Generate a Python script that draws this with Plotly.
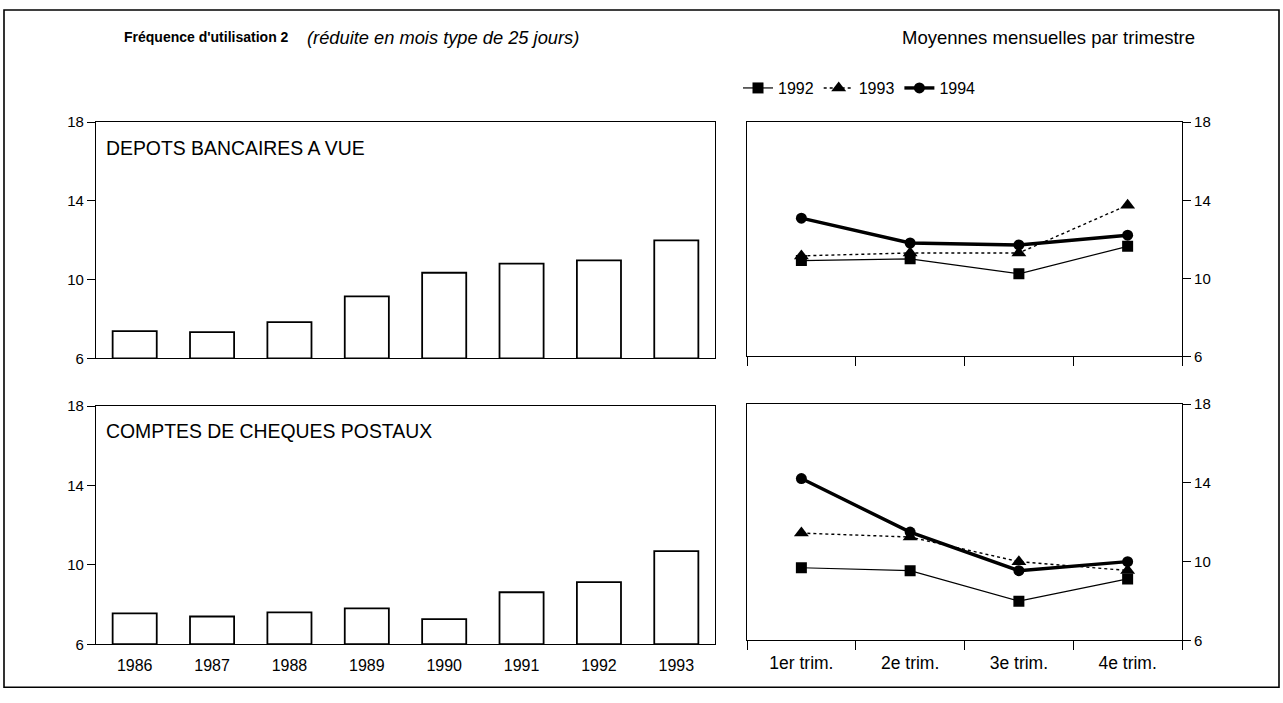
import plotly.graph_objects as go

# ---- data ----
years = ["1986", "1987", "1988", "1989", "1990", "1991", "1992", "1993"]
depots_annual = [7.38, 7.33, 7.84, 9.15, 10.35, 10.81, 10.98, 11.99]
ccp_annual = [7.56, 7.40, 7.61, 7.81, 7.27, 8.62, 9.13, 10.69]

quarters = ["1er trim.", "2e trim.", "3e trim.", "4e trim."]
depots_q = {
    "1992": [10.91, 11.00, 10.23, 11.64],
    "1993": [11.15, 11.30, 11.30, 13.75],
    "1994": [13.08, 11.81, 11.71, 12.21],
}
ccp_q = {
    "1992": [9.69, 9.54, 7.99, 9.12],
    "1993": [11.45, 11.25, 10.00, 9.55],
    "1994": [14.22, 11.50, 9.54, 10.00],
}
y_ticks = [6, 10, 14, 18]

W, H = 1283, 703
FONT = "Liberation Sans, Arial, Helvetica, sans-serif"

def px_x(p):
    return p / W

def px_y(p):
    return 1 - p / H

fig = go.Figure()

# bars
for data, xa, ya in [(depots_annual, "x", "y"), (ccp_annual, "x3", "y3")]:
    fig.add_trace(go.Bar(
        x=years, y=[v - 6 for v in data], base=6,
        marker=dict(color="white", line=dict(color="black", width=1.8)),
        width=0.57, xaxis=xa, yaxis=ya, showlegend=False, hoverinfo="skip",
    ))

styles = {
    "1992": dict(line=dict(color="black", width=1.2, dash="solid"),
                 marker=dict(symbol="square", size=11, color="black")),
    "1993": dict(line=dict(color="black", width=1.4, dash="dot"),
                 marker=dict(symbol="triangle-up", size=13, color="black")),
    "1994": dict(line=dict(color="black", width=3.4, dash="solid"),
                 marker=dict(symbol="circle", size=11, color="black")),
}

for data, xa, ya, show in [(depots_q, "x2", "y2", True), (ccp_q, "x4", "y4", False)]:
    for name, vals in data.items():
        fig.add_trace(go.Scatter(
            x=quarters, y=vals, mode="lines+markers", name=name,
            xaxis=xa, yaxis=ya, showlegend=show, **styles[name],
        ))

left_dom = [px_x(96), px_x(715)]
right_dom = [px_x(747), px_x(1182)]
top_left = [px_y(358), px_y(116)]
bot_left = [px_y(651), px_y(407)]
top_right = [px_y(356), px_y(116)]
bot_right = [px_y(647), px_y(405)]

TICKFONT = dict(size=15, color="black", family=FONT)
yax_common = dict(range=[6, 18], tickvals=y_ticks, ticks="outside", ticklen=8,
                  tickwidth=1, tickcolor="black", showline=True, linecolor="black",
                  linewidth=1.2, mirror=True, showgrid=False, zeroline=False,
                  tickfont=TICKFONT)

fig.update_layout(
    width=W, height=H,
    margin=dict(l=0, r=0, t=0, b=0),
    paper_bgcolor="white", plot_bgcolor="white",
    font=dict(family=FONT, color="black", size=15),
    xaxis=dict(domain=left_dom, anchor="y", showticklabels=False, ticks="",
               showline=True, linecolor="black", linewidth=1.2, mirror=True,
               showgrid=False),
    yaxis=dict(domain=top_left, anchor="x", **yax_common),
    xaxis3=dict(domain=left_dom, anchor="y3", ticks="", showline=True,
                linecolor="black", linewidth=1.2, mirror=True, showgrid=False,
                tickfont=dict(size=16, color="black", family=FONT),
                ticklabelstandoff=6),
    yaxis3=dict(domain=bot_left, anchor="x3", **yax_common),
    xaxis2=dict(domain=right_dom, anchor="y2", showticklabels=False,
                range=[-0.5, 3.5],
                ticks="outside", tickson="boundaries", ticklen=9, tickcolor="black",
                showline=True, linecolor="black", linewidth=1.2, mirror=True,
                showgrid=False),
    yaxis2=dict(domain=top_right, anchor="x2", side="right", **yax_common),
    xaxis4=dict(domain=right_dom, anchor="y4", ticks="outside",
                range=[-0.5, 3.5],
                tickson="boundaries", ticklen=9, tickcolor="black",
                showline=True, linecolor="black", linewidth=1.2, mirror=True,
                showgrid=False, tickfont=dict(size=17.5, color="black", family=FONT),
                ticklabelstandoff=7),
    yaxis4=dict(domain=bot_right, anchor="x4", side="right", **yax_common),
    legend=dict(orientation="h", x=px_x(738), y=px_y(81), xanchor="left",
                yanchor="middle", itemwidth=30, font=dict(size=16, family=FONT),
                bgcolor="rgba(0,0,0,0)", tracegroupgap=0),
)

ann = [
    dict(text="<b>Fréquence d'utilisation 2</b>", x=px_x(122), y=px_y(29),
         xanchor="left", yanchor="middle", font=dict(size=14)),
    dict(text="<i>(réduite en mois type de 25 jours)</i>", x=px_x(305), y=px_y(29),
         xanchor="left", yanchor="middle", font=dict(size=18.3)),
    dict(text="Moyennes mensuelles par trimestre", x=px_x(1197), y=px_y(29),
         xanchor="right", yanchor="middle", font=dict(size=18.5)),
]
for a in ann:
    a.update(xref="paper", yref="paper", showarrow=False)
    fig.add_annotation(**a)

fig.add_annotation(text="DEPOTS BANCAIRES A VUE", xref="x domain", yref="y domain",
                   x=0.013, y=0.89, xanchor="left", yanchor="middle",
                   showarrow=False, font=dict(size=19.4))
fig.add_annotation(text="COMPTES DE CHEQUES POSTAUX", xref="x3 domain", yref="y3 domain",
                   x=0.013, y=0.895, xanchor="left", yanchor="middle",
                   showarrow=False, font=dict(size=19.4))

fig.add_shape(type="rect", xref="paper", yref="paper",
              x0=px_x(4), x1=px_x(1279), y0=px_y(695), y1=px_y(1),
              line=dict(color="black", width=1.6))

fig.write_html("out.html", config={"displayModeBar": False},
               post_script="document.body.style.margin='0';document.body.style.overflow='hidden';")
